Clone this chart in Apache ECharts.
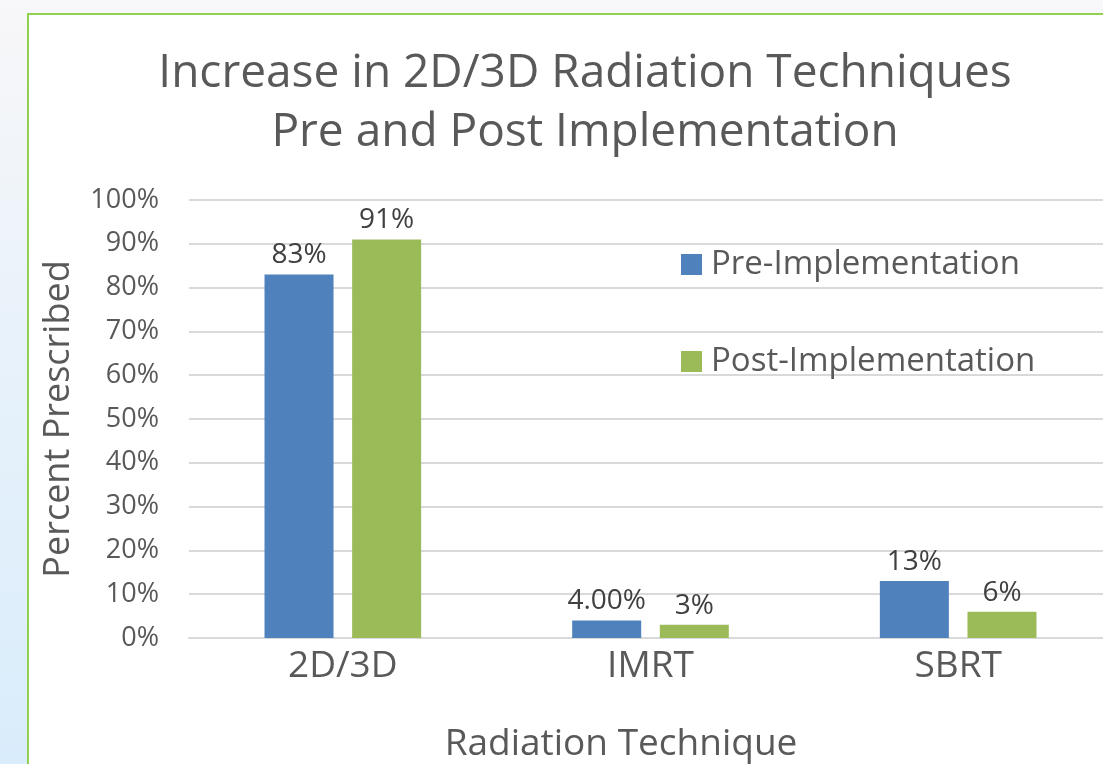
<!DOCTYPE html>
<html>
<head>
<meta charset="utf-8">
<script src="https://cdn.jsdelivr.net/npm/echarts@6/dist/echarts.min.js"></script>
<style>
  html, body { margin: 0; padding: 0; width: 1103px; height: 764px; overflow: hidden; }
  body { background: linear-gradient(180deg, #f8f7f9 0%, #e8f2fa 45%, #d9ecfb 100%); position: relative; }
  #box { position: absolute; left: 27px; top: 13px; right: 0; bottom: 0; background: #fff;
         border-left: 2px solid #92d050; border-top: 2px solid #92d050; }
  #main { position: absolute; left: 0; top: 0; width: 1103px; height: 764px; }
</style>
</head>
<body>
<div id="box"></div>
<div id="main"></div>
<script>
const categories = ['2D/3D', 'IMRT', 'SBRT']
const preValues = [0.83, 0.04, 0.13]
const postValues = [0.91, 0.03, 0.06]
const preLabels = ['83%', '4.00%', '13%']
const postLabels = ['91%', '3%', '6%']

const font = 'Open Sans'
const textColor = '#595959'

const chart = echarts.init(document.getElementById('main'), null, { renderer: 'canvas' })

chart.setOption({
  backgroundColor: 'transparent',
  title: {
    text: 'Increase in 2D/3D Radiation Techniques\nPre and Post Implementation',
    left: 580,
    top: 39,
    textAlign: 'center',
    textStyle: {
      fontFamily: font,
      fontSize: 46,
      fontWeight: 'normal',
      color: textColor,
      lineHeight: 59
    }
  },
  legend: {
    orient: 'vertical',
    left: 676,
    top: 243,
    itemWidth: 21,
    itemHeight: 21,
    itemGap: 64,
    icon: 'rect',
    textStyle: { fontFamily: font, fontSize: 33, color: textColor, padding: [0, 0, 0, 4] },
    data: ['Pre-Implementation', 'Post-Implementation']
  },
  grid: { left: 189, width: 923, top: 200, bottom: 126, containLabel: false, outerBoundsMode: 'none' },
  xAxis: {
    type: 'category',
    data: categories,
    name: 'Radiation Technique',
    nameLocation: 'middle',
    nameGap: 88,
    nameTextStyle: { fontFamily: font, fontSize: 37, color: textColor, padding: [0, 59, 0, 0] },
    axisLine: { show: true, lineStyle: { color: '#d9d9d9', width: 2 } },
    axisTick: { show: false },
    axisLabel: { fontFamily: font, fontSize: 37, color: textColor, margin: 10 }
  },
  yAxis: {
    type: 'value',
    min: 0,
    max: 1,
    interval: 0.1,
    name: 'Percent Prescribed',
    nameLocation: 'middle',
    nameGap: 112,
    nameTextStyle: { fontFamily: font, fontSize: 36, color: textColor },
    axisLine: { show: false },
    axisTick: { show: false },
    axisLabel: {
      fontFamily: font, fontSize: 27, color: textColor, margin: 30,
      formatter: v => Math.round(v * 100) + '%'
    },
    splitLine: { lineStyle: { color: '#d9d9d9', width: 2 } }
  },
  series: [
    {
      name: 'Pre-Implementation',
      type: 'bar',
      data: preValues,
      barWidth: 69,
      barGap: '27%',
      itemStyle: { color: '#4f81bd' },
      label: {
        show: true, position: 'top', distance: 5,
        fontFamily: font, fontSize: 28, color: '#404040',
        formatter: p => preLabels[p.dataIndex]
      }
    },
    {
      name: 'Post-Implementation',
      type: 'bar',
      data: postValues,
      barWidth: 69,
      itemStyle: { color: '#9bbb59' },
      label: {
        show: true, position: 'top', distance: 5,
        fontFamily: font, fontSize: 28, color: '#404040',
        formatter: p => postLabels[p.dataIndex]
      }
    }
  ]
})
</script>
</body>
</html>
